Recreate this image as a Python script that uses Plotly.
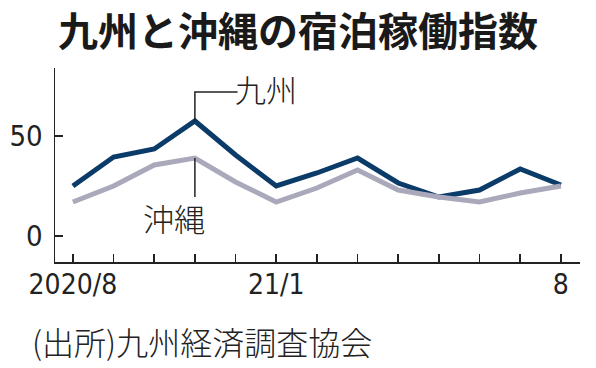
import plotly.graph_objects as go

months = ["2020/8", "2020/9", "2020/10", "2020/11", "2020/12", "2021/1", "2021/2",
          "2021/3", "2021/4", "2021/5", "2021/6", "2021/7", "2021/8"]
kyushu = [25, 39.5, 43.5, 57.5, 40.5, 25, 31.5, 39, 26.5, 19.5, 23, 33.5, 25.5]
okinawa = [17, 25, 35.5, 39, 27, 17, 24, 33, 23, 19.5, 17, 21.5, 25]
tick_vals = ["2020/8", "2021/1", "2021/8"]
tick_text = ["2020/8", "21/1", "8"]
y_ticks = [0, 50]

NAVY = "#0b3b68"
GRAY = "#a9a9bb"
TICK_FONT = "DejaVu Sans Condensed, sans-serif"
CJK = "Noto Sans CJK JP"

fig = go.Figure()
fig.add_trace(go.Scatter(x=months, y=kyushu, mode="lines", line=dict(color=NAVY, width=5),
                         name="九州", showlegend=False, hoverinfo="skip"))
fig.add_trace(go.Scatter(x=months, y=okinawa, mode="lines", line=dict(color=GRAY, width=5),
                         name="沖縄", showlegend=False, hoverinfo="skip"))

peak = 3
fig.add_shape(type="path", xref="x", yref="y",
              path=f"M {peak} {kyushu[peak]} L {peak} 72 L {peak + 1.05} 72",
              line=dict(color="#222", width=1.5))
fig.add_shape(type="line", xref="x", yref="y", x0=peak, x1=peak,
              y0=okinawa[peak], y1=19.5, line=dict(color="#222", width=1.5))

fig.add_annotation(x=peak + 0.93, y=74, xref="x", yref="y", text="九州", showarrow=False,
                   xanchor="left", yanchor="middle",
                   font=dict(family=CJK, size=31, color="#222", weight=300))
fig.add_annotation(x=peak - 0.52, y=9.5, xref="x", yref="y", text="沖縄", showarrow=False,
                   xanchor="center", yanchor="middle",
                   font=dict(family=CJK, size=31, color="#222", weight=300))
fig.add_annotation(x=(30 - 55) / 525, y=(262 - 341) / 194, xref="paper", yref="paper",
                   text="(出所)九州経済調査協会", showarrow=False, xanchor="left", yanchor="middle",
                   font=dict(family=CJK, size=32, color="#222", weight=300))

fig.update_layout(
    width=596, height=368,
    margin=dict(l=55, r=16, t=68, b=106, autoexpand=False),
    paper_bgcolor="white", plot_bgcolor="white",
    title=dict(text="<b>九州と沖縄の宿泊稼働指数</b>", x=0.5, xanchor="center",
               y=1 - 32 / 368, yanchor="middle", yref="container",
               font=dict(family=CJK, size=40, color="#1a1a1a")),
    xaxis=dict(type="category", categoryorder="array", categoryarray=months,
               range=[-0.44, 12.47], tickmode="array", tickvals=months,
               ticktext=[tick_text[tick_vals.index(m)] if m in tick_vals else "" for m in months],
               ticks="inside", ticklen=8, tickwidth=1.5, tickcolor="#222",
               showline=True, linecolor="#222", linewidth=1.5, showgrid=False, zeroline=False,
               tickfont=dict(family=TICK_FONT, size=28, color="#222"), ticklabelstandoff=-3),
    yaxis=dict(range=[-13, 84], tickvals=y_ticks, ticks="inside", ticklen=8, tickwidth=1.5,
               tickcolor="#222", showline=True, linecolor="#222", linewidth=1.5,
               showgrid=False, zeroline=False,
               tickfont=dict(family=TICK_FONT, size=29, color="#222"), ticklabelstandoff=5),
)

fig.write_html("out.html", config={"displayModeBar": False, "staticPlot": True},
               post_script="document.body.style.margin='0';")
